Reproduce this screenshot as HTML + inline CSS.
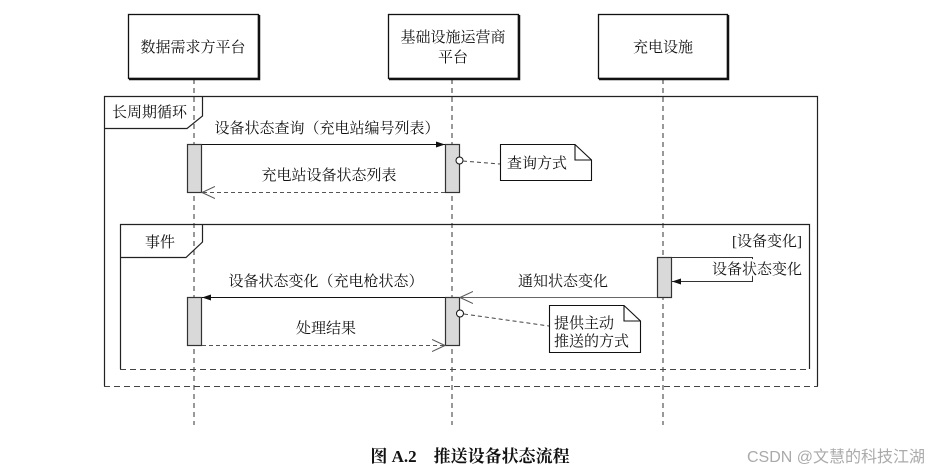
<!DOCTYPE html>
<html><head><meta charset="utf-8"><style>
html,body{margin:0;padding:0;background:#fff;}
svg{display:block;}
text{font-family:"Liberation Serif","Noto Serif CJK SC","Noto Sans CJK SC",serif;font-size:15px;fill:#111;}
</style></head><body>
<svg width="942" height="475" viewBox="0 0 942 475" xmlns="http://www.w3.org/2000/svg">
<defs>
<marker id="fill" markerWidth="10" markerHeight="8" refX="9" refY="4" orient="auto" markerUnits="userSpaceOnUse"><path d="M0,1 L9,4 L0,7 Z" fill="#111"/></marker>
<marker id="open" markerWidth="14" markerHeight="14" refX="13" refY="7" orient="auto" markerUnits="userSpaceOnUse"><path d="M0,1 L13,7 L0,13" fill="none" stroke="#555" stroke-width="1"/></marker>
</defs>
<!-- lifelines -->
<g stroke="#333" stroke-width="1" stroke-dasharray="5,4">
<line x1="194" y1="79" x2="194" y2="425"/>
<line x1="452" y1="79" x2="452" y2="425"/>
<line x1="663" y1="79" x2="663" y2="425"/>
</g>
<!-- participant boxes -->
<g fill="#fff" stroke="#111">
<rect x="128.5" y="14.5" width="130" height="64" stroke-width="1.3"/>
<rect x="388.5" y="14.5" width="130" height="64" stroke-width="1.3"/>
<rect x="598.5" y="14.5" width="129" height="64" stroke-width="1.3"/>
</g>
<g stroke="#111" stroke-width="2.5" fill="none">
<path d="M129,79 H259 V15"/><path d="M389,79 H519 V15"/><path d="M599,79 H728 V15"/>
</g>
<text x="193" y="52" text-anchor="middle">数据需求方平台</text>
<text x="453" y="42" text-anchor="middle">基础设施运营商</text>
<text x="453" y="62" text-anchor="middle">平台</text>
<text x="663" y="52" text-anchor="middle">充电设施</text>
<!-- outer frame -->
<path d="M104.5,386 V96.5 H817.5 V386" fill="none" stroke="#222" stroke-width="1.2"/>
<line x1="104" y1="386.5" x2="818" y2="386.5" stroke="#444" stroke-dasharray="6,4"/>
<path d="M104.5,128.5 H187 L202.5,116 V96.5" fill="none" stroke="#222" stroke-width="1.2"/>
<text x="112" y="117">长周期循环</text>
<!-- inner frame -->
<path d="M120.5,369 V224.5 H809.5 V369" fill="none" stroke="#222" stroke-width="1.2"/>
<line x1="120" y1="369.5" x2="810" y2="369.5" stroke="#444" stroke-dasharray="6,4"/>
<path d="M120.5,257.5 H186 L202.5,242 V224.5" fill="none" stroke="#222" stroke-width="1.2"/>
<text x="145" y="247">事件</text>
<text x="802" y="246" text-anchor="end">[设备变化]</text>
<!-- activations -->
<g fill="#d9d9d9" stroke="#333" stroke-width="1.2">
<rect x="187.5" y="144.5" width="14" height="48"/>
<rect x="445.5" y="144.5" width="14" height="48"/>
<rect x="657.5" y="257.5" width="14" height="40"/>
<rect x="187.5" y="297.5" width="14" height="48"/>
<rect x="445.5" y="297.5" width="14" height="48"/>
</g>
<!-- messages -->
<line x1="202" y1="144.5" x2="445" y2="144.5" stroke="#111" marker-end="url(#fill)"/>
<text x="327" y="133" text-anchor="middle">设备状态查询（充电站编号列表）</text>
<line x1="445" y1="192.5" x2="202" y2="192.5" stroke="#555" stroke-dasharray="4,3" marker-end="url(#open)"/>
<text x="329" y="180" text-anchor="middle">充电站设备状态列表</text>
<!-- note 1 -->
<circle cx="459.5" cy="160.5" r="3.5" fill="#fff" stroke="#111"/>
<line x1="463" y1="161" x2="500" y2="164" stroke="#444" stroke-dasharray="4,3"/>
<path d="M500.5,144.5 H575 L591.5,160 V180.5 H500.5 Z M575,144.5 V160 H591.5" fill="#fff" stroke="#111" stroke-width="1.1"/>
<text x="507" y="168">查询方式</text>
<!-- self message -->
<path d="M671,257.5 H752.5 V281.5 H672" fill="none" stroke="#333" marker-end="url(#fill)"/>
<text x="802" y="274" text-anchor="end" style="paint-order:stroke;stroke:#fff;stroke-width:5px">设备状态变化</text>
<!-- notify -->
<line x1="657" y1="297.5" x2="460" y2="297.5" stroke="#666" marker-end="url(#open)"/>
<text x="563" y="286" text-anchor="middle">通知状态变化</text>
<line x1="445" y1="297.5" x2="202" y2="297.5" stroke="#111" marker-end="url(#fill)"/>
<text x="326" y="286" text-anchor="middle">设备状态变化（充电枪状态）</text>
<line x1="202" y1="345.5" x2="445" y2="345.5" stroke="#555" stroke-dasharray="4,3" marker-end="url(#open)"/>
<text x="326" y="333" text-anchor="middle">处理结果</text>
<!-- note 2 -->
<circle cx="460" cy="313.5" r="3.5" fill="#fff" stroke="#111"/>
<line x1="464" y1="314" x2="549" y2="326" stroke="#444" stroke-dasharray="4,3"/>
<path d="M549.5,305.5 H624 L640.5,321 V352.5 H549.5 Z M624,305.5 V321 H640.5" fill="#fff" stroke="#111" stroke-width="1.1"/>
<text x="554" y="328">提供主动</text>
<text x="554" y="346">推送的方式</text>
<!-- caption -->
<text x="470" y="462" text-anchor="middle" style="font-size:17px;font-weight:bold;">图 A.2　推送设备状态流程</text>
<text x="925" y="462" text-anchor="end" style="font-family:'Liberation Sans','Noto Sans CJK SC',sans-serif;font-size:16px;fill:#aaa;">CSDN @文慧的科技江湖</text>
</svg>
</body></html>
